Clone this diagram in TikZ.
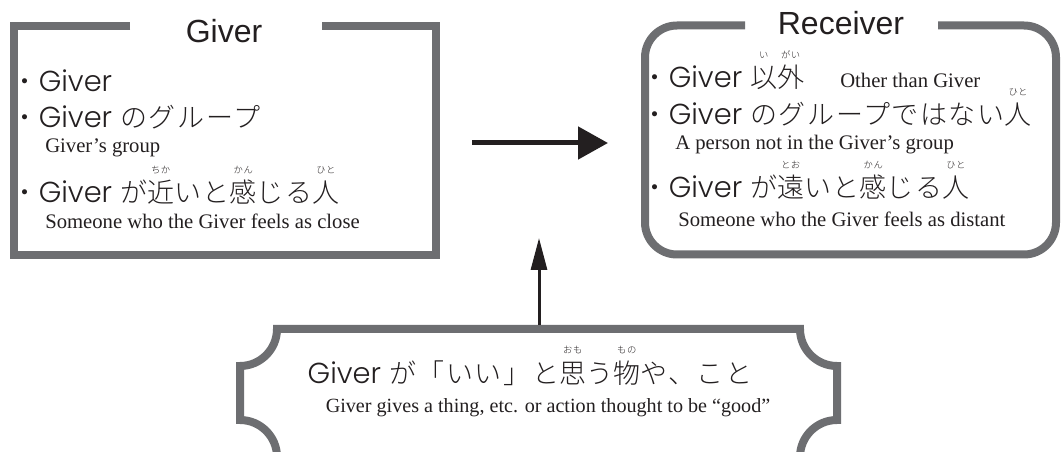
\documentclass[tikz,border=0pt]{standalone}
\usepackage{fontspec}
\usetikzlibrary{arrows.meta}
\newfontfamily\jpf[LetterSpace=6]{Noto Sans CJK JP Light}
\newfontfamily\latf[Scale=1.07]{Poppins Light}
\newfontfamily\serf{Liberation Serif}
\newfontfamily\ttlf{Liberation Sans}
\definecolor{boxgray}{HTML}{6D6E71}
\definecolor{ink}{HTML}{231F20}
\newcommand\rb[2]{\leavevmode\ooalign{#1\cr\hidewidth\raisebox{1.08em}{\fontsize{7pt}{8pt}\selectfont #2}\hidewidth\cr}}
\newcommand\jline{\fontsize{20.25pt}{24pt}\selectfont}
\newcommand\bline{\fontsize{20.25pt}{24pt}\selectfont}
\newcommand\engl{\fontsize{15.5pt}{18pt}\selectfont\serf}
\newcommand\engb{\fontsize{15.1pt}{18pt}\selectfont\serf}
\newcommand\ttlsize{\fontsize{24pt}{28pt}\selectfont\ttlf}
\newcommand\gap{\hspace{6pt}}
\begin{document}
\begin{tikzpicture}[x=0.75pt,y=-0.75pt,
  frame/.style={draw=boxgray, line width=6pt},
  jtext/.style={anchor=base west, inner sep=0pt, text=ink, font=\jline},
  etext/.style={anchor=base west, inner sep=0pt, text=ink, font=\engl},
  titletext/.style={anchor=base, inner sep=0pt, text=ink, font=\ttlsize},
  arr/.style={draw=ink, fill=ink}
  ]
\useasboundingbox (0,0) rectangle (1061,452);
\fill[white] (0,0) rectangle (1061,452);
\clip (0,0) rectangle (1061,452);

% Giver frame
\draw[frame] (130,26) -- (14,26) -- (14,255) -- (436,255) -- (436,26) -- (322,26);
% Receiver frame
\draw[frame, rounded corners=24pt] (745,25.5) -- (645,25.5) -- (645,254.5) -- (1056,254.5) -- (1056,25.5) -- (938,25.5);
% bottom plaque frame
\draw[frame] (277,329) -- (800,329)
  .. controls (800,349.4) and (816.6,366) .. (837,366) -- (837,420)
  .. controls (816.6,420) and (800,436.6) .. (800,457) -- (277,457)
  .. controls (277,436.6) and (260.4,420) .. (240,420) -- (240,366)
  .. controls (260.4,366) and (277,349.4) .. cycle;

% titles
\node[titletext] (gt) at (224,43) {Giver};
\node[titletext] (rt) at (841,35) {Receiver};

% Giver box
\node[jtext] (g1) at (11.5,92) {{\jpf ・}{\latf Giver}};
\node[jtext] (g2) at (11.5,128) {{\jpf ・}{\latf Giver}\gap{\jpf のグループ}};
\node[etext] (g2e) at (45,153) {Giver’s group};
\node[jtext] (g3) at (11.5,203) {{\jpf ・}{\latf Giver}\gap{\jpf が\rb{近}{ちか}いと\rb{感}{かん}じる\rb{人}{ひと}}};
\node[etext] (g3e) at (45,229) {Someone who the Giver feels as close};

% Receiver box
\node[jtext] (r1) at (641.5,88) {{\jpf ・}{\latf Giver}\gap{\jpf \rb{以}{い}\rb{外}{がい}}};
\node[etext] (r1e) at (840,88) {Other than Giver};
\node[jtext] (r2) at (641.5,125) {{\jpf ・}{\latf Giver}\gap{\jpf のグループではない\rb{人}{ひと}}};
\node[etext] (r2e) at (675,150) {A person not in the Giver’s group};
\node[jtext] (r3) at (641.5,198) {{\jpf ・}{\latf Giver}\gap{\jpf が\rb{遠}{とお}いと\rb{感}{かん}じる\rb{人}{ひと}}};
\node[etext] (r3e) at (678,227) {Someone who the Giver feels as distant};

% bottom box
\node[anchor=base, inner sep=0pt, text=ink, font=\bline] (b1) at (530,383) {{\latf Giver}\gap{\jpf が「いい」と\rb{思}{おも}う\rb{物}{もの}や、こと}};
\node[anchor=base, inner sep=0pt, text=ink, font=\engb] (b1e) at (548,412) {Giver gives a thing, etc. or action thought to be “good”};

% arrows
\coordinate (ha) at (472,143);
\coordinate (hb) at (608,143);
\draw[arr, line width=3.75pt, -{Triangle[length=22.5pt,width=24pt]}] (ha) -- (hb);
\coordinate (va) at (539,325);
\coordinate (vb) at (539,238);
\draw[arr, line width=2.25pt, -{Triangle[length=24pt,width=12pt]}] (va) -- (vb);
\end{tikzpicture}
\end{document}
